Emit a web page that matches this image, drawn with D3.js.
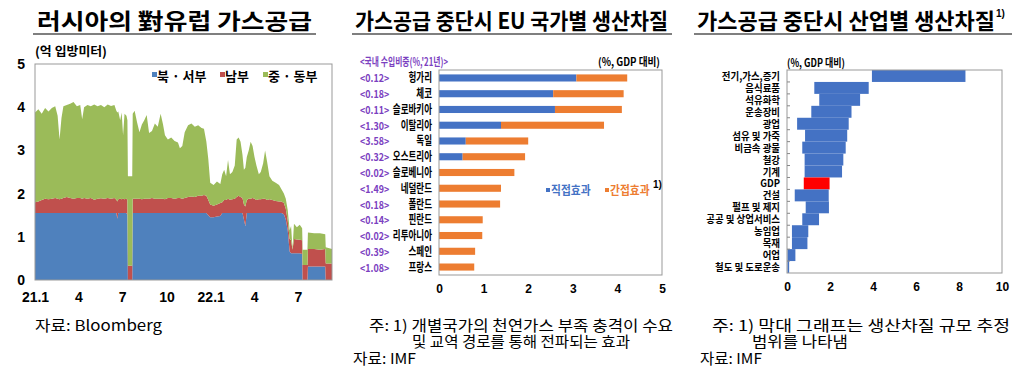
<!DOCTYPE html>
<html><head><meta charset="utf-8">
<script src="https://cdn.jsdelivr.net/npm/d3@7"></script>
<style>body{margin:0;background:#fff}svg{display:block}</style>
</head><body>
<svg id="c" width="1024" height="374"></svg>
<script>
// ---------- Panel 1 data: Russian gas supply to Europe (100 million m3) ----------
const gasDates = [
'2021-01-01','2021-01-08','2021-01-15','2021-01-22','2021-01-29','2021-02-05','2021-02-12','2021-02-17','2021-02-21','2021-02-25',
'2021-03-01','2021-03-08','2021-03-15','2021-03-22','2021-03-29','2021-04-05','2021-04-09','2021-04-13','2021-04-20','2021-04-27',
'2021-05-04','2021-05-11','2021-05-18','2021-05-25','2021-06-01','2021-06-08','2021-06-15','2021-06-19','2021-06-21','2021-06-23',
'2021-06-27','2021-06-30','2021-07-03','2021-07-06','2021-07-10','2021-07-12','2021-07-13','2021-07-22','2021-07-23','2021-07-27',
'2021-08-01','2021-08-06','2021-08-11','2021-08-16','2021-08-21','2021-08-26','2021-09-01','2021-09-07','2021-09-13','2021-09-19',
'2021-09-24','2021-09-28','2021-10-04','2021-10-11','2021-10-18','2021-10-25','2021-10-29','2021-11-03','2021-11-08','2021-11-15',
'2021-11-22','2021-11-29','2021-12-06','2021-12-13','2021-12-18','2021-12-23','2021-12-27','2021-12-31','2022-01-07','2022-01-14',
'2022-01-21','2022-01-25','2022-01-29','2022-02-02','2022-02-06','2022-02-10','2022-02-15','2022-02-20','2022-02-24','2022-02-28',
'2022-03-04','2022-03-08','2022-03-11','2022-03-14','2022-03-17','2022-03-21','2022-03-25','2022-03-29','2022-04-02','2022-04-06',
'2022-04-11','2022-04-15','2022-04-20','2022-04-24','2022-04-28','2022-05-03','2022-05-09','2022-05-16','2022-05-23','2022-05-28',
'2022-06-02','2022-06-06','2022-06-10','2022-06-14','2022-06-17','2022-06-20','2022-06-23','2022-06-29','2022-07-05','2022-07-10',
'2022-07-11','2022-07-21','2022-07-22','2022-08-04','2022-08-16','2022-08-27','2022-08-28','2022-09-10'];
const gasNorthWest = [
1.55,1.55,1.55,1.55,1.55,1.55,1.55,1.55,1.55,1.55,
1.55,1.55,1.55,1.55,1.55,1.55,1.55,1.55,1.55,1.55,
1.55,1.55,1.55,1.55,1.55,1.55,1.55,1.55,1.42,1.55,
1.55,1.55,1.55,1.55,1.55,1.50,0,0,1.55,1.55,
1.55,1.55,1.55,1.55,1.55,1.55,1.55,1.55,1.55,1.55,
1.55,1.55,1.55,1.55,1.55,1.55,1.55,1.55,1.55,1.55,
1.55,1.55,1.55,1.55,1.55,1.55,1.50,1.45,1.45,1.47,
1.48,1.55,1.55,1.55,1.55,1.55,1.55,1.55,1.55,1.55,
1.55,1.55,1.40,1.25,1.55,1.55,1.55,1.55,1.55,1.55,
1.55,1.55,1.55,1.55,1.55,1.55,1.55,1.55,1.55,1.55,
1.52,1.40,1.15,0.66,0.62,0.62,0.62,0.62,0.62,0.60,
0,0,0.31,0.31,0.31,0.31,0,0];
const gasSouth = [
0.25,0.27,0.30,0.33,0.32,0.33,0.35,0.33,0.32,0.33,
0.35,0.37,0.35,0.33,0.35,0.35,0.33,0.35,0.33,0.35,
0.31,0.33,0.34,0.33,0.35,0.33,0.35,0.31,0.40,0.32,
0.33,0.32,0.33,0.32,0.33,0.35,0.33,0.33,0.33,0.33,
0.33,0.33,0.32,0.33,0.33,0.33,0.35,0.33,0.33,0.33,
0.33,0.32,0.35,0.35,0.33,0.35,0.35,0.33,0.35,0.37,
0.38,0.37,0.40,0.40,0.42,0.40,0.35,0.30,0.27,0.28,
0.30,0.25,0.30,0.30,0.33,0.31,0.32,0.33,0.37,0.40,
0.37,0.35,0.35,0.45,0.30,0.33,0.33,0.35,0.33,0.30,
0.32,0.32,0.33,0.33,0.30,0.32,0.30,0.28,0.27,0.27,
0.26,0.25,0.23,0.29,0.30,0.08,0.33,0.32,0.31,0.32,
0.35,0.35,0.41,0.41,0.39,0.41,0.38,0.38];
const gasCentralEast = [
2.08,2.13,2.00,2.10,2.03,2.10,2.12,1.92,1.38,1.87,
2.12,2.13,2.18,2.24,2.12,2.15,1.84,2.10,2.17,2.12,
2.20,2.14,2.16,2.12,2.16,2.15,2.15,2.06,2.06,2.03,
1.82,2.01,1.47,1.98,1.92,1.85,2.07,2.07,1.97,2.04,
1.77,1.54,1.73,1.82,1.94,1.52,1.55,1.74,1.67,1.97,
1.72,1.48,1.35,1.40,1.34,1.28,1.15,1.22,1.52,1.66,
1.69,1.63,1.63,1.57,1.53,1.25,0.95,0.50,0.48,0.53,
0.44,0.65,0.70,0.55,0.90,0.59,0.63,0.77,1.33,1.35,
1.28,1.00,0.80,0.90,1.00,1.12,1.32,1.20,0.97,0.80,
0.58,0.63,0.82,1.12,0.90,0.53,0.45,0.42,0.38,0.28,
0.22,0.23,0.24,0.20,0.33,0.02,0.35,0.28,0.35,0.28,
0.35,0.35,0.38,0.36,0.38,0.34,0.38,0.34];
const gasSeriesNames = ['북 · 서부','남부','중 · 동부'];
const gasYTicks = [0,1,2,3,4,5];
const gasXTickDates = ['2021-01-01','2021-04-01','2021-07-01','2021-10-01','2022-01-01','2022-04-01','2022-07-01'];
const gasXTickLabels = ['21.1','4','7','10','22.1','4','7'];

// ---------- Panel 2 data: output loss by EU country (% of GDP) ----------
const euCountries = ['헝가리','체코','슬로바키아','이탈리아','독일','오스트리아','슬로베니아','네덜란드','폴란드','핀란드','리투아니아','스페인','프랑스'];
const euImportShare = ['0.12','0.18','0.11','1.30','3.58','0.32','0.02','1.49','0.18','0.14','0.02','0.39','1.08'];
const euDirect   = [3.08,2.56,2.60,1.39,0.60,0.53,0,0,0,0,0,0,0];
const euIndirect = [1.14,1.58,1.50,2.31,1.40,1.40,1.69,1.39,1.37,0.98,0.97,0.81,0.79];
const euXTicks = [0,1,2,3,4,5];

// ---------- Panel 3 data: output loss range by industry (% of GDP) ----------
const indCategories = ['전기,가스,증기','음식료품','석유화학','운송장비','광업','섬유 및 가죽','비금속 광물','철강','기계','GDP','건설','펄프 및 제지','공공 및 상업서비스','농임업','목재','어업','철도 및 도로운송'];
const indLow  = [3.95,1.27,1.50,1.13,0.47,0.84,0.71,0.82,0.82,0.78,0.36,0.87,0.71,0.23,0.23,0.02,0.02];
const indHigh = [8.30,3.80,3.40,3.00,2.87,2.80,2.73,2.62,2.56,1.98,1.94,1.95,1.49,0.99,0.95,0.39,0.10];
const indXTicks = [0,2,4,6,8,10];

// ---------- helpers ----------
const KR = "'Noto Sans CJK KR','Noto Sans',sans-serif";
const NUM = "'Liberation Sans','Arial',sans-serif";
const svg = d3.select('#c');
function label(g, x, y, s, o = {}) {
  const t = g.append('text')
    .attr('transform', `translate(${x},${y}) scale(${o.sx || 1},1)`)
    .attr('font-family', o.ff || KR).attr('font-size', o.fs || 12)
    .attr('font-weight', o.fw || 700).attr('fill', o.fill || '#000')
    .attr('text-anchor', o.anchor || 'start').text(s);
  if (o.len) t.attr('textLength', o.len).attr('lengthAdjust', 'spacingAndGlyphs');
  return t;
}
function title(x, y, s, len, ux0, ux1) {
  label(svg, x, y, s, {fs: 22, len: len});
  svg.append('line').attr('x1', ux0).attr('x2', ux1).attr('y1', 34).attr('y2', 34)
    .attr('stroke', '#555').attr('stroke-width', 1.5);
}

// ================= Panel 1 =================
title(37, 29, '러시아의 對유럽 가스공급', 275, 33, 316);
label(svg, 35, 56, '(억 입방미터)', {fs: 12.5, len: 72});
const parse = d3.timeParse('%Y-%m-%d');
const x1 = d3.scaleTime().domain([parse('2021-01-01'), parse('2022-09-10')]).range([35, 332]);
const y1 = d3.scaleLinear().domain([0, 5]).range([280, 64]);
const gasRows = gasDates.map((d, i) => ({date: parse(d), nw: gasNorthWest[i], s: gasSouth[i], ce: gasCentralEast[i]}));
const gasColors = ['#4F81BD', '#C0504D', '#9BBB59'];
const gasStack = d3.stack().keys(['nw', 's', 'ce'])(gasRows);
const gasArea = d3.area().x(d => x1(d.data.date)).y0(d => y1(d[0])).y1(d => y1(d[1]));
const g1 = svg.append('g');
g1.selectAll('path.a').data(gasStack).join('path').attr('class', 'a')
  .attr('d', gasArea).attr('fill', (d, i) => gasColors[i]);
g1.append('rect').attr('x', 35).attr('y', y1(5)).attr('width', 332 - 35).attr('height', y1(0) - y1(5))
  .attr('fill', 'none').attr('stroke', '#999').attr('stroke-width', 1);
const ax1 = g1.append('g').attr('transform', 'translate(35,0)')
  .call(d3.axisLeft(y1).tickValues(gasYTicks).tickSize(0).tickPadding(10).tickFormat(d3.format('d')));
ax1.select('.domain').remove();
ax1.selectAll('text').attr('font-family', NUM).attr('font-weight', 700).attr('font-size', 14).attr('fill', '#000');
const bx1 = g1.append('g').attr('transform', `translate(0,${y1(0)})`)
  .call(d3.axisBottom(x1).tickValues(gasXTickDates.map(parse)).tickSize(0).tickPadding(12)
    .tickFormat((d, i) => gasXTickLabels[i]));
bx1.select('.domain').remove();
bx1.selectAll('text').attr('font-family', NUM).attr('font-weight', 700).attr('font-size', 14).attr('fill', '#000');
// legend
const leg1X = [152, 220, 263];
gasSeriesNames.forEach((n, i) => {
  g1.append('rect').attr('x', leg1X[i]).attr('y', 72).attr('width', 5).attr('height', 5).attr('fill', gasColors[i]);
  label(g1, leg1X[i] + 5, 81, n, {fs: 13});
});
label(svg, 35, 331, '자료: Bloomberg', {fs: 15, fw: 400, len: 127});

// ================= Panel 2 =================
title(355, 29, '가스공급 중단시 EU 국가별 생산차질', 313, 352, 672);
const g2 = svg.append('g');
label(g2, 360, 66, "<국내 수입비중(%,'21년)>", {fs: 11, len: 88, fill: '#7B3FBF'});
label(g2, 598, 66, '(%, GDP 대비)', {fs: 11, len: 62});
const x2 = d3.scaleLinear().domain([0, 5]).range([439, 662]);
const y2 = d3.scaleBand().domain(euCountries).range([70, 275]).paddingInner(0.55).paddingOuter(0.28);
const euRows = euCountries.map((c, i) => ({c, direct: euDirect[i], indirect: euIndirect[i]}));
const euColors = ['#4472C4', '#ED7D31'];
const euStack = d3.stack().keys(['direct', 'indirect'])(euRows);
g2.selectAll('g.s').data(euStack).join('g').attr('class', 's').attr('fill', (d, i) => euColors[i])
  .selectAll('rect').data(d => d).join('rect')
  .attr('x', d => x2(d[0])).attr('width', d => Math.max(0, x2(d[1]) - x2(d[0])))
  .attr('y', d => y2(d.data.c)).attr('height', y2.bandwidth());
g2.append('rect').attr('x', 439).attr('y', 70).attr('width', 662 - 439).attr('height', 275 - 70)
  .attr('fill', 'none').attr('stroke', '#999');
euCountries.forEach((c, i) => {
  const cy = y2(c) + y2.bandwidth() / 2 + 4.5;
  label(g2, 432, cy, c, {fs: 12, sx: 0.71, anchor: 'end'});
  label(g2, 360, cy, '<' + euImportShare[i] + '>', {fs: 10.5, sx: 0.85, fill: '#7B3FBF'});
});
const bx2 = g2.append('g').attr('transform', 'translate(0,275)')
  .call(d3.axisBottom(x2).tickValues(euXTicks).tickSize(0).tickPadding(9).tickFormat(d3.format('d')));
bx2.select('.domain').remove();
bx2.selectAll('text').attr('font-family', NUM).attr('font-weight', 700).attr('font-size', 12).attr('fill', '#000');
// legend
const euLegend = ['직접효과', '간접효과'];
const leg2X = [546, 605];
euLegend.forEach((n, i) => {
  g2.append('rect').attr('x', leg2X[i]).attr('y', 188).attr('width', 4).attr('height', 4).attr('fill', euColors[i]);
  label(g2, leg2X[i] + 5, 195, n, {fs: 12.5, sx: 0.86, fill: euColors[i]});
});
label(g2, 653, 188, '1)', {fs: 10, ff: NUM});
label(svg, 369, 331, '주: 1) 개별국가의 천연가스 부족 충격이 수요', {fs: 15, fw: 400, len: 304});
label(svg, 412, 347, '및 교역 경로를 통해 전파되는 효과', {fs: 15, fw: 400, len: 218});
label(svg, 353, 364, '자료: IMF', {fs: 15, fw: 400, len: 63});

// ================= Panel 3 =================
title(697, 29, '가스공급 중단시 산업별 생산차질', 298, 694, 1012);
label(svg, 996, 17, '1)', {fs: 10, ff: NUM});
const g3 = svg.append('g');
label(g3, 787, 67, '(%, GDP 대비)', {fs: 11, len: 58});
const x3 = d3.scaleLinear().domain([0, 10]).range([787, 1002]);
const y3 = d3.scaleBand().domain(indCategories).range([70, 273]).padding(0);
const indRows = indCategories.map((c, i) => ({c, lo: indLow[i], hi: indHigh[i]}));
g3.selectAll('rect.b').data(indRows).join('rect').attr('class', 'b')
  .attr('x', d => x3(d.lo)).attr('width', d => x3(d.hi) - x3(d.lo))
  .attr('y', d => y3(d.c)).attr('height', y3.bandwidth())
  .attr('fill', d => d.c === 'GDP' ? '#FF0000' : '#4472C4');
g3.append('rect').attr('x', 787).attr('y', 70).attr('width', 1002 - 787).attr('height', 273 - 70)
  .attr('fill', 'none').attr('stroke', '#999');
g3.selectAll('line.t').data(indCategories.slice(1)).join('line').attr('class', 't')
  .attr('x1', 787).attr('x2', 790).attr('y1', d => y3(d)).attr('y2', d => y3(d))
  .attr('stroke', '#888');
indCategories.forEach(c => {
  label(g3, 780, y3(c) + y3.bandwidth() / 2 + 4, c, {fs: 10.5, sx: 0.9, anchor: 'end'});
});
const bx3 = g3.append('g').attr('transform', 'translate(0,273)')
  .call(d3.axisBottom(x3).tickValues(indXTicks).tickSize(0).tickPadding(9).tickFormat(d3.format('d')));
bx3.select('.domain').remove();
bx3.selectAll('text').attr('font-family', NUM).attr('font-weight', 700).attr('font-size', 12).attr('fill', '#000');
label(svg, 712, 331, '주: 1) 막대 그래프는 생산차질 규모 추정', {fs: 15, fw: 400, len: 298});
label(svg, 752, 347, '범위를 나타냄', {fs: 15, fw: 400, len: 96});
label(svg, 700, 364, '자료: IMF', {fs: 15, fw: 400, len: 62});
</script>
</body></html>
